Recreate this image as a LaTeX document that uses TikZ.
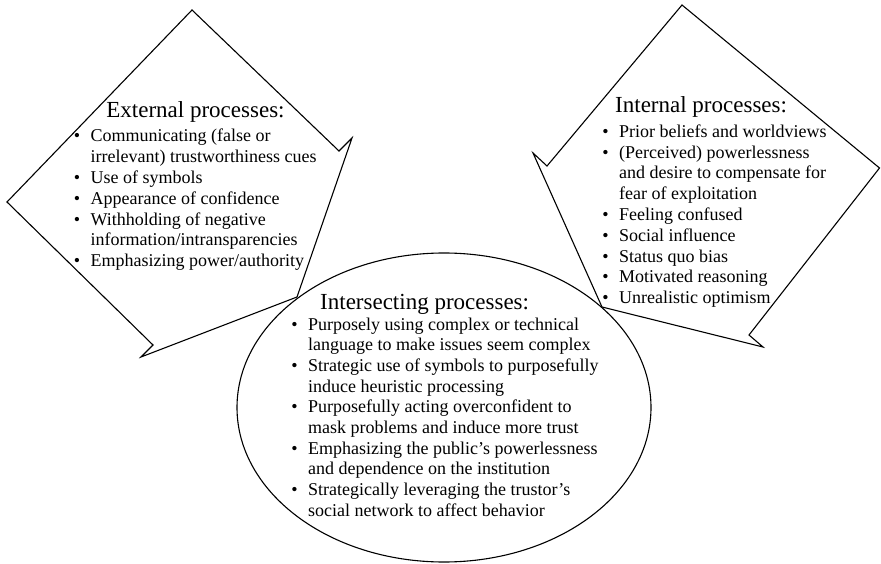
\documentclass[tikz,border=0pt]{standalone}
\usepackage{fontspec}
\setmainfont{Liberation Serif}
\begin{document}
\begin{tikzpicture}[x=1bp,y=-1bp,
  shapeline/.style={draw=black,line width=1.1bp,line join=miter,fill=white},
  ttl/.style={font=\fontsize{23bp}{27bp}\selectfont,inner sep=0pt},
  itm/.style={font=\fontsize{18bp}{20.7bp}\selectfont,inner sep=0pt,anchor=base west},
]
\newcommand{\bul}{\llap{\textbullet\hspace{10.5bp}}}
\useasboundingbox (0,0) rectangle (881,564);
\fill[white] (0,0) rectangle (881,564);

% External processes arrow (pointing down-right)
\coordinate (et) at (192,10);
\coordinate (en1) at (339,151);
\coordinate (eb1) at (352,138);
\coordinate (etip) at (297,297);
\coordinate (eb2) at (141,357);
\coordinate (en2) at (153,345);
\coordinate (el) at (7,202);
\draw[shapeline] (et) -- (en1) -- (eb1) -- (etip) -- (eb2) -- (en2) -- (el) -- cycle;

% Internal processes arrow (pointing down-left)
\coordinate (it) at (682,5);
\coordinate (ir) at (879.5,168);
\coordinate (in1) at (749,335);
\coordinate (ib1) at (763,347);
\coordinate (itip) at (602,307);
\coordinate (ib2) at (533,153);
\coordinate (in2) at (547,166);
\draw[shapeline] (it) -- (ir) -- (in1) -- (ib1) -- (itip) -- (ib2) -- (in2) -- cycle;

% Intersecting ellipse
\draw[shapeline] (444,407.5) ellipse [x radius=207, y radius=154.5];

% External texts
\node[ttl,anchor=base] (e0) at (195.5,117.3) {External processes:};
\node[itm] (e1) at (90.5,142.0) {\bul Communicating (false or};
\node[itm] (e2) at (90.5,162.8) {irrelevant) trustworthiness cues};
\node[itm] (e3) at (90.5,183.6) {\bul Use of symbols};
\node[itm] (e4) at (90.5,204.4) {\bul Appearance of confidence};
\node[itm] (e5) at (90.5,225.2) {\bul Withholding of negative};
\node[itm] (e6) at (90.5,246.0) {information/intransparencies};
\node[itm] (e7) at (90.5,266.8) {\bul Emphasizing power/authority};

% Internal texts
\node[ttl,anchor=base west] (i0) at (615,112.3) {Internal processes:};
\node[itm] (i1) at (619,137.3) {\bul Prior beliefs and worldviews};
\node[itm] (i2) at (619,158.1) {\bul (Perceived) powerlessness};
\node[itm] (i3) at (619,178.9) {and desire to compensate for};
\node[itm] (i4) at (619,199.7) {fear of exploitation};
\node[itm] (i5) at (619,220.5) {\bul Feeling confused};
\node[itm] (i6) at (619,241.3) {\bul Social influence};
\node[itm] (i7) at (619,262.1) {\bul Status quo bias};
\node[itm] (i8) at (619,282.9) {\bul Motivated reasoning};
\node[itm] (i9) at (619,303.7) {\bul Unrealistic optimism};

% Intersecting texts
\node[ttl,anchor=base west] (s0) at (320,309) {Intersecting processes:};
\node[itm] (s1) at (308,330.0) {\bul Purposely using complex or technical};
\node[itm] (s2) at (308,350.7) {language to make issues seem complex};
\node[itm] (s3) at (308,371.4) {\bul Strategic use of symbols to purposefully};
\node[itm] (s4) at (308,392.1) {induce heuristic processing};
\node[itm] (s5) at (308,412.8) {\bul Purposefully acting overconfident to};
\node[itm] (s6) at (308,433.5) {mask problems and induce more trust};
\node[itm] (s7) at (308,454.2) {\bul Emphasizing the public’s powerlessness};
\node[itm] (s8) at (308,474.9) {and dependence on the institution};
\node[itm] (s9) at (308,495.6) {\bul Strategically leveraging the trustor’s};
\node[itm] (s10) at (308,516.3) {social network to affect behavior};
\end{tikzpicture}
\end{document}
